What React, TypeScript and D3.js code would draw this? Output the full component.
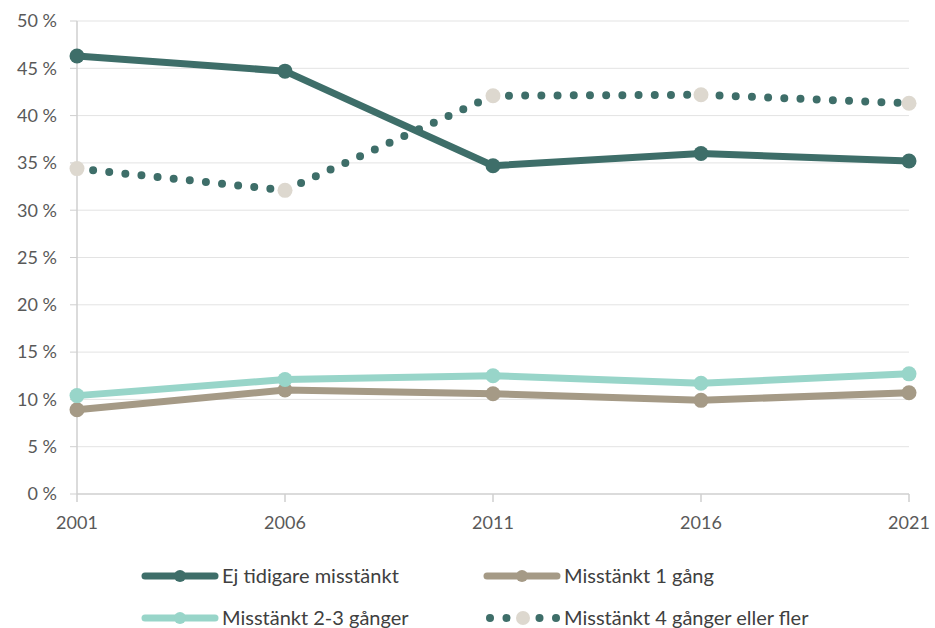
import React from "react";
import * as d3 from "d3";

const years = ["2001", "2006", "2011", "2016", "2021"];
const ejTidigare = [46.3, 44.7, 34.7, 36.0, 35.2];
const misstankt1 = [8.9, 11.0, 10.6, 9.9, 10.7];
const misstankt23 = [10.4, 12.1, 12.5, 11.7, 12.7];
const misstankt4 = [34.4, 32.1, 42.1, 42.2, 41.3];
const yTicks = [0, 5, 10, 15, 20, 25, 30, 35, 40, 45, 50];

const dark = "#3e6e69";
const tan = "#a59a86";
const mint = "#98d5c9";
const pale = "#ddd8cf";
const font = "Lato, 'Open Sans', sans-serif";

const series = [
  { name: "Ej tidigare misstänkt", values: ejTidigare, color: dark, marker: dark, dotted: false },
  { name: "Misstänkt 1 gång", values: misstankt1, color: tan, marker: tan, dotted: false },
  { name: "Misstänkt 2-3 gånger", values: misstankt23, color: mint, marker: mint, dotted: false },
  { name: "Misstänkt 4 gånger eller fler", values: misstankt4, color: dark, marker: pale, dotted: true },
];

export default function App() {
  const width = 935;
  const height = 628;
  const left = 77;
  const right = 909;
  const top = 21;
  const bottom = 494;

  const x = d3.scalePoint<string>().domain(years).range([left, right]);
  const y = d3.scaleLinear().domain([0, 50]).range([bottom, top]);

  const line = d3
    .line<number>()
    .x((_, i) => x(years[i]) as number)
    .y((d) => y(d));

  const legend = [
    { s: series[0], lx: 145, ly: 576 },
    { s: series[1], lx: 487, ly: 576 },
    { s: series[2], lx: 145, ly: 618 },
    { s: series[3], lx: 487, ly: 618 },
  ];

  return (
    <svg
      width={width}
      height={height}
      style={{ position: "absolute", left: 0, top: 0, background: "#fff" }}
    >
      {/* grid */}
      {yTicks.map((t) => (
        <g key={t}>
          {t > 0 && (
            <line x1={left} x2={right} y1={y(t)} y2={y(t)} stroke="#e3e3e3" strokeWidth={1} />
          )}
          <line x1={left - 7} x2={left} y1={y(t)} y2={y(t)} stroke="#cfcfcf" strokeWidth={1} />
          <text
            x={57}
            y={y(t)}
            dy="0.35em"
            textAnchor="end"
            fontFamily={font}
            fontSize={18}
            fill="#595959"
          >
            {t} %
          </text>
        </g>
      ))}
      <line x1={left} x2={left} y1={top} y2={bottom} stroke="#cfcfcf" strokeWidth={1.5} />
      <line x1={left} x2={right} y1={bottom} y2={bottom} stroke="#cfcfcf" strokeWidth={1.5} />
      {years.map((yr) => (
        <g key={yr}>
          <line
            x1={x(yr)}
            x2={x(yr)}
            y1={bottom}
            y2={bottom + 8}
            stroke="#cfcfcf"
            strokeWidth={1.5}
          />
          <text
            x={x(yr)}
            y={523}
            dy="0.35em"
            textAnchor="middle"
            fontFamily={font}
            fontSize={18}
            fill="#595959"
          >
            {yr}
          </text>
        </g>
      ))}

      {/* series */}
      {series.map((s) => (
        <g key={s.name}>
          <path
            d={line(s.values) || ""}
            fill="none"
            stroke={s.color}
            strokeWidth={s.dotted ? 8 : 7}
            strokeLinecap="round"
            strokeLinejoin="round"
            strokeDasharray={s.dotted ? "0 16.2" : undefined}
          />
          {s.values.map((v, i) => (
            <circle key={i} cx={x(years[i])} cy={y(v)} r={7.5} fill={s.marker} />
          ))}
        </g>
      ))}

      {/* legend */}
      {legend.map(({ s, lx, ly }) => (
        <g key={s.name}>
          {s.dotted ? (
            <g>
              {[0, 1, 3, 4].map((k) => (
                <circle key={k} cx={lx + 3 + k * 16.5} cy={ly} r={4} fill={s.color} />
              ))}
              <circle cx={lx + 36} cy={ly} r={7} fill={s.marker} />
            </g>
          ) : (
            <g>
              <line
                x1={lx}
                x2={lx + 70}
                y1={ly}
                y2={ly}
                stroke={s.color}
                strokeWidth={7}
                strokeLinecap="round"
              />
              <circle cx={lx + 35} cy={ly} r={6} fill={s.marker} />
            </g>
          )}
          <text
            x={lx + 77}
            y={ly}
            dy="0.35em"
            fontFamily={font}
            fontSize={20}
            fill="#404040"
          >
            {s.name}
          </text>
        </g>
      ))}
    </svg>
  );
}
